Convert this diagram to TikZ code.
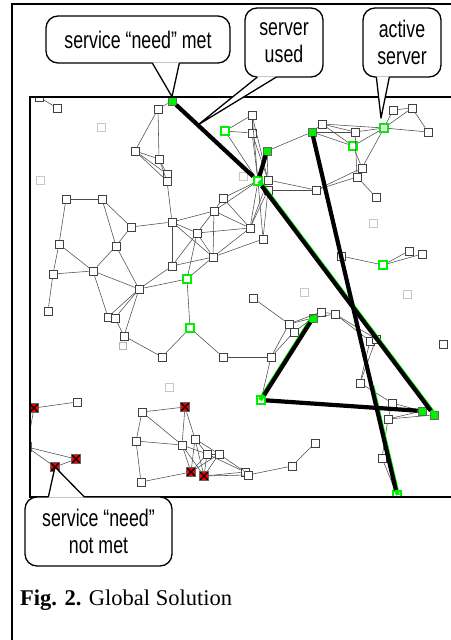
\documentclass[tikz,border=0pt]{standalone}
\usepackage{fontspec}
\usetikzlibrary{calc}
\newfontfamily\notefont[FakeStretch=0.74]{Liberation Sans}
\newfontfamily\capfont{Liberation Serif}
\definecolor{srvgreen}{HTML}{00F000}
\definecolor{needred}{HTML}{F00000}

\begin{document}
\begin{tikzpicture}[
    x=1pt, y=-1pt,
    host/.style={rectangle, draw=black!75, fill=white, line width=0.6pt, minimum size=8pt, inner sep=0pt},
    idle/.style={host, draw=black!22},
    stale/.style={host, draw=black!30, line width=1.4pt, minimum size=7pt},
    activesrv/.style={host, draw=srvgreen, line width=1.8pt},
    served/.style={host, fill=srvgreen, draw=black!60},
    unmet/.style={host, fill=needred, draw=black!60, minimum size=9pt,
        path picture={\draw[black, line width=1.3pt]
            (path picture bounding box.north west) -- (path picture bounding box.south east)
            (path picture bounding box.north east) -- (path picture bounding box.south west);}},
    netline/.style={black!70, line width=0.55pt},
    solline/.style={black, line width=4.2pt},
    glowline/.style={srvgreen, line width=4.2pt},
    note/.style={draw, line width=1.3pt, rounded corners=12pt, fill=white, align=center,
        inner sep=2pt, font={\notefont\fontsize{24}{27}\selectfont}},
    notetail/.style={line width=1.3pt, line join=round},
]
    \useasboundingbox (0,0) rectangle (450,640);

    % page frame
    \draw[line width=2.5pt] (12,640) -- (12,4) -- (452,4);

    % network area
    \begin{scope}
    \clip (30,97) rectangle (452,497);

    % plain hosts
    \foreach \n/\x/\y in {a1/39/97, a2/57/108,
        b1/158/109, b2/135/151, b3/159/159, b4/167/174, b5/167/181,
        c1/252/115, c2/252/133, c3/268/180, c4/268/190, c5/316/190,
        d1/322/124, d2/355/132, d3/362/168, d4/357/177, d5/376/197,
        d6/393/110, d7/412/108, d8/428/132,
        e1/66/199, e2/102/199, e3/131/227, e4/172/222, e5/197/233,
        e6/214/211, e7/223/198, e8/213/257, e9/59/244, e10/116/246,
        e11/93/271, e12/53/274, e13/172/266, e14/139/289, e15/48/311,
        e16/108/317, e17/115/318, e18/124/336, e19/162/357, e20/223/357,
        f1/250/228, f2/263/239, f3/253/298,
        g1/341/256, g2/409/251, g3/422/254,
        h1/321/312, h2/335/314, h3/289/324, h4/294/332, h5/271/357,
        h6/370/341, h7/376/339, h8/360/383, h9/392/403, h10/388/419,
        h11/382/458, h12/443/344,
        k1/77/402,
        m1/142/412, m2/136/441, m3/182/445, m4/195/439, m5/207/454,
        m6/219/454, m7/141/482, m8/245/472, m9/248/475, m10/292/466,
        m11/315/443}
        \node[host] (\n) at (\x,\y) {};

    % hosts with nothing in reach
    \foreach \n/\x/\y in {i1/101/127, i2/40/180, i3/243/176, i4/373/223,
        i5/304/292, i6/407/294, i7/169/387}
        \node[idle] (\n) at (\x,\y) {};
    \node[stale] (i8) at (123,346) {};

    % servers
    \foreach \n/\x/\y in {s1/225/131, s2/353/146, s3/384/128, s4/187/279,
        s5/190/328, s6/383/265, u1/258/181, u2/261/400, u3/397/495}
        \node[activesrv] (\n) at (\x,\y) {};

    % needs that are met
    \foreach \n/\x/\y in {n1/172/101, n2/267/151, n3/312/132, n4/313/318,
        n5/422/411, n6/434/415}
        \node[served] (\n) at (\x,\y) {};

    % needs that are not met
    \foreach \n/\x/\y in {x1/34/408, x2/27/447, x3/76/459, x4/55/467,
        x5/185/407, x6/191/472, x7/204/476}
        \node[unmet] (\n) at (\x,\y) {};

    % links
    \foreach \a/\b in {a1/a2,
        n1/b1, b1/b2, b1/b3, b2/b3, b2/b4, b2/b5, b3/b4, b3/b5, b4/b5, b5/e4,
        s1/c1, s1/c2, s1/u1, c1/c2, c1/u1, c2/u1, c1/c3, c2/c3, n2/c3,
        c3/c5, c4/c5, u1/e7, u1/e6, u1/f1, c3/f1, c4/f1, c4/f2, u1/f2,
        n2/n3, n3/d1, n3/d2, n3/s2, d1/d2, d1/s2, d2/s3, s2/s3, d2/d4,
        s2/d3, s3/d3, d3/d4, d4/c5, d3/c5, d4/d5, s3/d6, s3/d7, s3/d8,
        d6/d7, d7/d8, d1/s3,
        e1/e2, e1/e9, e2/e3, e2/e10, e3/e4, e3/e10, e4/e13, e4/e5, e4/e6,
        e4/e8, e5/e6, e5/e8, e5/e13, e5/s4, e5/f1, e6/e8, e6/f1, e6/e7,
        e7/f1, e8/f1, e8/f2, e8/e13, e8/s4, e9/e11, e9/e12, e12/e11,
        e12/e15, e10/e11, e10/e14, e11/e14, e11/e16, e14/e13, e14/s4,
        e14/e16, e14/e17, e14/e18, e16/e17, e17/e18, s4/s5, e18/e19,
        e19/s5, s5/e20, e20/h5,
        f3/h3, h3/h1, h3/n4, h4/n4, h3/h5, h4/h5, h5/u2, n4/h1, n4/h2,
        h1/h2, h2/h6, h2/h7, h6/h8, h7/h8, h8/h9, h9/h10, h10/n5, h10/n6,
        h9/n5, h10/h11, h11/u3,
        g1/s6, s6/g2, s6/g3,
        k1/x1, x1/x2, x2/x3, x2/x4, x4/x3,
        m1/x5, m1/m2, m1/m3, x5/m3, x5/m4, m2/m3, m2/m7, m7/x6, m3/x6,
        m3/x7, m3/m5, m4/m5, m4/m6, m4/x6, m4/x7, m5/x6, m5/x7, m6/x6,
        m6/x7, m5/m6, x7/m8, x7/m9, m5/m8, m6/m8, m8/m9, m9/m10, m10/m11}
        \draw[netline] (\a) -- (\b);

    % chosen server for each met need
    \draw[glowline] ([xshift=1pt]u1.center) -- ([xshift=1pt]n6.center);
    \draw[glowline] ([xshift=-0.9pt]u2.center) -- ([xshift=-0.9pt]n4.center);
    \draw[glowline] ([xshift=0.8pt]$(n3)!0.7!(u3)$) -- ([xshift=0.8pt]u3.center);
    \draw[solline] (n1) -- (u1);
    \draw[solline] (n2) -- (u1);
    \draw[solline] (u1) -- (n6);
    \draw[solline] (n3) -- (u3);
    \draw[solline] (u2) -- (n4);
    \draw[solline] (u2) -- (n5);
    \end{scope}

    \draw[line width=1.4pt] (452,97) -- (30,97) -- (30,497) -- (452,497);

    % callouts
    \node[note, minimum width=184pt, minimum height=47pt] (metnote) at (138,39.5) {service “need” met};
    \fill[white] ($(metnote.south west)+(107,-1.2)$) -- (n1.north) -- ($(metnote.south west)+(134,-1.2)$) -- cycle;
    \draw[notetail] ($(metnote.south west)+(107,-0.6)$) -- (n1.north) -- ($(metnote.south west)+(134,-0.6)$);

    \coordinate (usedtip) at ($(n1)!0.3!(u1)$);
    \node[note, minimum width=78pt, minimum height=69pt] (usednote) at (284,42.5) {server\\used};
    \fill[white] ($(usednote.south west)+(13,-1.2)$) -- (usedtip) -- ($(usednote.south west)+(32,-1.2)$) -- cycle;
    \draw[notetail] ($(usednote.south west)+(13,-0.6)$) -- (usedtip) -- ($(usednote.south west)+(32,-0.6)$);

    \coordinate (activetip) at ($(s3.north)+(-3,-5)$);
    \node[note, minimum width=78pt, minimum height=69pt] (activenote) at (402,42.5) {active\\server};
    \fill[white] ($(activenote.south west)+(14,-1.2)$) -- (activetip) -- ($(activenote.south west)+(27,-1.2)$) -- cycle;
    \draw[notetail] ($(activenote.south west)+(14,-0.6)$) -- (activetip) -- ($(activenote.south west)+(27,-0.6)$);

    \node[note, minimum width=147pt, minimum height=69pt] (unmetnote) at (98.5,531.5) {service “need”\\not met};
    \fill[white] ($(unmetnote.north west)+(24,1.2)$) -- (x4.center) -- ($(unmetnote.north west)+(60,1.2)$) -- cycle;
    \draw[notetail] ($(unmetnote.north west)+(24,0.6)$) -- (x4.center) -- ($(unmetnote.north west)+(60,0.6)$);

    % caption
    \node[anchor=base west, inner sep=0pt] (caption) at (20,605)
        {\capfont\fontsize{22.5}{27}\selectfont\textbf{Fig. 2.} Global Solution};
\end{tikzpicture}
\end{document}
